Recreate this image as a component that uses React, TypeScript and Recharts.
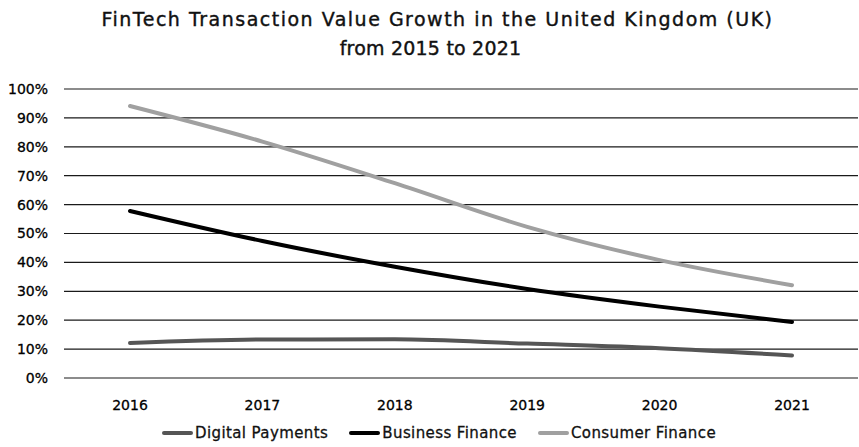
import { CartesianGrid, Legend, Line, LineChart, XAxis, YAxis } from 'recharts'

const years = ['2016', '2017', '2018', '2019', '2020', '2021']
const digitalPayments = [12.1, 13.3, 13.4, 11.9, 10.3, 7.8]
const businessFinance = [57.8, 47.4, 38.5, 30.8, 24.7, 19.4]
const consumerFinance = [94.1, 81.8, 67.4, 52.3, 40.8, 32.1]
const yTicks = [0, 10, 20, 30, 40, 50, 60, 70, 80, 90, 100]
const seriesOrder = ['Digital Payments', 'Business Finance', 'Consumer Finance']

const data = years.map((year, i) => ({
  year,
  digital: digitalPayments[i],
  business: businessFinance[i],
  consumer: consumerFinance[i],
}))

const font = '"DejaVu Sans", sans-serif'

// legend drawn by hand so icon width and gaps match the original
function LegendRow(props: any) {
  const items = [...(props.payload || [])].sort(
    (a: any, b: any) => seriesOrder.indexOf(a.value) - seriesOrder.indexOf(b.value)
  )
  return (
    <div style={{ display: 'flex', justifyContent: 'center', alignItems: 'center', height: 29, paddingLeft: 20 }}>
      {items.map((it: any, i: number) => (
        <div key={it.value} style={{ display: 'flex', alignItems: 'center', marginRight: i < items.length - 1 ? 21 : 0 }}>
          <span style={{ display: 'inline-block', width: 31, height: 4, borderRadius: 2, background: it.color, marginRight: 2 }} />
          <span style={{ fontSize: 15, letterSpacing: 0.4, color: '#111', WebkitTextStroke: '0.3px #111' }}>{it.value}</span>
        </div>
      ))}
    </div>
  )
}

const titleStyle = {
  position: 'absolute' as const,
  width: 859,
  textAlign: 'center' as const,
  fontSize: 19,
  lineHeight: '29px',
  color: '#111',
  WebkitTextStroke: '0.4px #111',
}

export default function App() {
  return (
    <div style={{ position: 'absolute', left: 0, top: 0, width: 859, height: 447, background: '#fff', fontFamily: font }}>
      <div style={{ ...titleStyle, left: 8, top: 5, letterSpacing: 1.5 }}>
        FinTech Transaction Value Growth in the United Kingdom (UK)
      </div>
      <div style={{ ...titleStyle, left: 1, top: 34, letterSpacing: 0.2 }}>from 2015 to 2021</div>
      <LineChart width={859} height={447} data={data} margin={{ top: 89, right: 1, bottom: 0, left: 0 }}>
        <CartesianGrid vertical={false} stroke="#1a1a1a" strokeWidth={1.2} />
        <XAxis
          dataKey="year"
          axisLine={false}
          tickLine={false}
          padding={{ left: 66, right: 66 }}
          height={40}
          tickMargin={16}
          tick={{ fill: '#000', fontSize: 14, fontFamily: font, stroke: '#000', strokeWidth: 0.3 }}
        />
        <YAxis
          domain={[0, 100]}
          ticks={yTicks}
          interval={0}
          axisLine={false}
          tickLine={false}
          width={64}
          tickMargin={10}
          tickFormatter={(v) => `${v}%`}
          tick={{ fill: '#000', fontSize: 14, fontFamily: font, stroke: '#000', strokeWidth: 0.3 }}
        />
        <Legend verticalAlign="bottom" content={LegendRow} wrapperStyle={{ fontFamily: font }} />
        <Line name="Digital Payments" type="monotone" dataKey="digital" stroke="#555555" strokeWidth={4} dot={false} isAnimationActive={false} strokeLinecap="round" />
        <Line name="Business Finance" type="monotone" dataKey="business" stroke="#000000" strokeWidth={4} dot={false} isAnimationActive={false} strokeLinecap="round" />
        <Line name="Consumer Finance" type="monotone" dataKey="consumer" stroke="#a0a0a0" strokeWidth={4} dot={false} isAnimationActive={false} strokeLinecap="round" />
      </LineChart>
    </div>
  )
}
